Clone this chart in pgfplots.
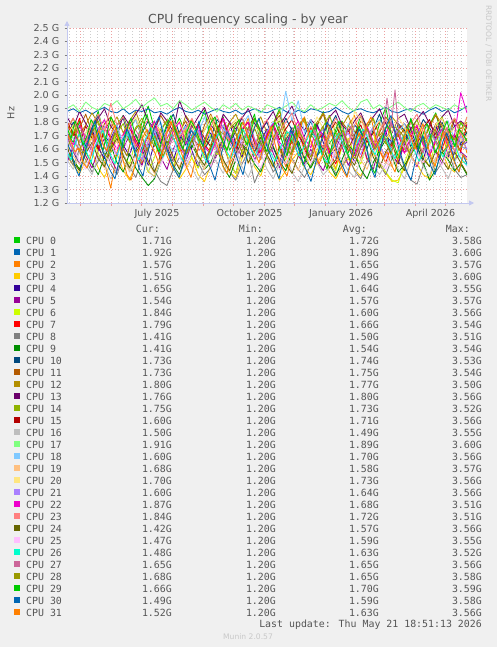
\documentclass[border=0pt]{standalone}
\usepackage{pgfplots}
\pgfplotsset{compat=1.18}
\usetikzlibrary{arrows.meta}
\usepackage{fontspec}
\setmainfont{DejaVu Sans}
\newfontfamily\mono{DejaVu Sans Mono}
\newcommand\fs[1]{\fontsize{#1}{#1}\selectfont}
\definecolor{bg}{HTML}{F0F0F0}
\definecolor{txt}{RGB}{85,85,85}
\definecolor{gridred}{RGB}{236,160,160}
\definecolor{gridgray}{RGB}{205,205,205}
\definecolor{axc}{RGB}{195,200,240}
\definecolor{c0}{HTML}{00CC00}\definecolor{c1}{HTML}{0066B3}\definecolor{c2}{HTML}{FF8000}\definecolor{c3}{HTML}{FFCC00}
\definecolor{c4}{HTML}{330099}\definecolor{c5}{HTML}{990099}\definecolor{c6}{HTML}{CCFF00}\definecolor{c7}{HTML}{FF0000}
\definecolor{c8}{HTML}{808080}\definecolor{c9}{HTML}{008F00}\definecolor{c10}{HTML}{00487D}\definecolor{c11}{HTML}{B35A00}
\definecolor{c12}{HTML}{B38F00}\definecolor{c13}{HTML}{6B006B}\definecolor{c14}{HTML}{8FB300}\definecolor{c15}{HTML}{B30000}
\definecolor{c16}{HTML}{BEBEBE}\definecolor{c17}{HTML}{80FF80}\definecolor{c18}{HTML}{80C9FF}\definecolor{c19}{HTML}{FFC080}
\definecolor{c20}{HTML}{FFE680}\definecolor{c21}{HTML}{AA80FF}\definecolor{c22}{HTML}{EE00CC}\definecolor{c23}{HTML}{FF8080}
\definecolor{c24}{HTML}{666600}\definecolor{c25}{HTML}{FFBFFF}\definecolor{c26}{HTML}{00FFCC}\definecolor{c27}{HTML}{CC6699}
\definecolor{c28}{HTML}{999900}\definecolor{c29}{HTML}{00CC00}\definecolor{c30}{HTML}{0066B3}\definecolor{c31}{HTML}{FF8000}
\tikzset{lbl/.style={font=\fs{9.6}, text=txt, inner sep=0pt},
         lg/.style={font=\mono\fs{9.9}, text=txt, inner sep=0pt}}
\newcommand{\legrow}[5]{%
 \begin{scope}[yshift={-12pt*#1}]
  \fill[c#1] (14pt,-237pt) rectangle (20pt,-243pt);
  \node[lg,anchor=base west] at (26pt,-244pt) {CPU #1};
  \node[lg,anchor=base east] at (172pt,-244pt) {#2};
  \node[lg,anchor=base east] at (276pt,-244pt) {#3};
  \node[lg,anchor=base east] at (379pt,-244pt) {#4};
  \node[lg,anchor=base east] at (482pt,-244pt) {#5};
 \end{scope}}
\begin{document}
\begin{tikzpicture}
\fill[bg] (0,0) rectangle (497pt,-647pt);
\begin{axis}[
 at={(67pt,-203pt)}, anchor=south west,
 scale only axis, width=400pt, height=175pt,
 xmin=0, xmax=400, ymin=120, ymax=250,
 axis background/.style={fill=white},
 axis line style={draw=none},
 xtick={13.7,44.7,74.7,105.7,136.7,166.7,197.7,227.7,258.7,289.7,317.7,348.7,378.7},
 minor xtick={2.7,9.7,...,397},
 ytick={120,130,...,250},
 xticklabels={}, yticklabels={},
 tick align=outside, tick pos=left,
 major tick length=2.5pt, minor tick length=0pt,
 xtick style={draw=gridred, line width=0.7pt},
 ytick style={draw=gray, line width=0.7pt},
 grid=both,
 major grid style={draw=gridred, line width=0.6pt, dash pattern=on 1pt off 2pt},
 minor grid style={draw=gridgray, line width=0.6pt, dash pattern=on 1pt off 2pt},
 every axis plot/.append style={line width=0.85pt, line join=round},
]
\addplot[c0] table[x expr=\coordindex*6.25, y index=0, header=false, row sep=\\] {172\\165\\181\\158\\176\\188\\169\\160\\178\\185\\171\\163\\180\\192\\175\\166\\158\\174\\183\\170\\161\\177\\189\\168\\172\\184\\159\\167\\180\\174\\186\\163\\171\\179\\190\\166\\158\\175\\182\\169\\177\\188\\164\\172\\181\\157\\170\\185\\176\\162\\179\\191\\168\\174\\160\\183\\171\\165\\178\\187\\169\\175\\162\\180\\171\\};
\addplot[c1] table[x expr=\coordindex*6.25, y index=0, header=false, row sep=\\] {188\\190\\187\\189\\186\\189\\191\\188\\187\\190\\186\\189\\188\\190\\187\\188\\186\\189\\191\\188\\187\\189\\186\\188\\190\\188\\187\\189\\186\\188\\190\\188\\187\\189\\191\\188\\186\\189\\187\\190\\189\\187\\188\\191\\188\\186\\189\\190\\188\\187\\189\\191\\188\\187\\189\\190\\188\\186\\189\\191\\188\\190\\187\\189\\192\\};
\addplot[c2] table[x expr=\coordindex*6.25, y index=0, header=false, row sep=\\] {176\\168\\158\\172\\181\\163\\150\\131\\158\\170\\177\\162\\149\\166\\180\\171\\155\\144\\163\\175\\182\\167\\153\\160\\174\\168\\149\\157\\172\\183\\164\\152\\169\\178\\160\\147\\162\\175\\184\\166\\155\\170\\158\\145\\163\\177\\185\\167\\152\\161\\173\\180\\164\\150\\168\\176\\159\\148\\166\\179\\171\\156\\163\\174\\157\\};
\addplot[c3] table[x expr=\coordindex*6.25, y index=0, header=false, row sep=\\] {155\\148\\142\\151\\158\\146\\139\\150\\157\\144\\137\\149\\156\\143\\140\\152\\160\\147\\138\\145\\154\\141\\136\\148\\159\\150\\143\\139\\153\\161\\147\\140\\155\\149\\137\\144\\152\\158\\146\\141\\150\\156\\143\\138\\147\\153\\145\\140\\151\\157\\148\\142\\136\\137\\146\\155\\149\\141\\138\\152\\158\\147\\143\\150\\151\\};
\addplot[c4] table[x expr=\coordindex*6.25, y index=0, header=false, row sep=\\] {170\\158\\149\\166\\175\\161\\153\\168\\177\\163\\155\\171\\160\\148\\165\\174\\162\\151\\167\\178\\159\\146\\163\\172\\157\\168\\180\\164\\154\\170\\158\\166\\175\\161\\150\\167\\176\\162\\153\\169\\179\\165\\155\\160\\171\\163\\150\\164\\177\\159\\168\\174\\156\\149\\166\\175\\161\\152\\169\\178\\160\\154\\170\\163\\165\\};
\addplot[c5] table[x expr=\coordindex*6.25, y index=0, header=false, row sep=\\] {150\\162\\171\\155\\146\\159\\168\\153\\144\\161\\170\\156\\148\\163\\172\\154\\145\\160\\169\\151\\165\\174\\158\\147\\156\\163\\150\\142\\159\\168\\152\\161\\170\\157\\146\\164\\173\\155\\149\\160\\151\\144\\158\\167\\162\\148\\157\\171\\153\\145\\162\\169\\155\\150\\164\\156\\147\\160\\172\\158\\149\\163\\152\\158\\154\\};
\addplot[c6] table[x expr=\coordindex*6.25, y index=0, header=false, row sep=\\] {164\\152\\145\\158\\170\\157\\148\\162\\173\\155\\149\\166\\158\\143\\154\\168\\159\\147\\163\\174\\153\\146\\160\\171\\156\\165\\150\\142\\158\\169\\161\\172\\155\\148\\163\\152\\167\\175\\157\\146\\159\\170\\153\\144\\162\\168\\156\\149\\165\\173\\151\\143\\137\\135\\150\\162\\171\\155\\147\\166\\174\\158\\151\\170\\184\\};
\addplot[c7] table[x expr=\coordindex*6.25, y index=0, header=false, row sep=\\] {178\\170\\183\\165\\172\\160\\176\\168\\155\\171\\181\\164\\157\\173\\166\\152\\168\\177\\161\\155\\170\\179\\163\\158\\174\\183\\167\\159\\175\\180\\165\\156\\170\\178\\162\\154\\167\\174\\160\\151\\166\\172\\158\\149\\163\\175\\161\\153\\168\\176\\159\\150\\164\\171\\157\\169\\177\\163\\155\\166\\160\\173\\168\\158\\179\\};
\addplot[c8] table[x expr=\coordindex*6.25, y index=0, header=false, row sep=\\] {156\\148\\160\\152\\143\\151\\162\\149\\141\\155\\147\\139\\153\\160\\144\\136\\133\\145\\154\\148\\157\\150\\141\\146\\159\\152\\143\\137\\149\\158\\135\\146\\154\\143\\150\\161\\153\\145\\139\\148\\156\\163\\150\\142\\147\\155\\144\\138\\151\\159\\149\\141\\153\\160\\146\\137\\134\\148\\155\\143\\150\\158\\145\\139\\141\\};
\addplot[c9] table[x expr=\coordindex*6.25, y index=0, header=false, row sep=\\] {160\\152\\145\\158\\149\\141\\155\\163\\150\\143\\157\\146\\139\\133\\138\\151\\160\\148\\141\\156\\163\\154\\145\\150\\161\\147\\139\\152\\165\\158\\149\\143\\156\\162\\151\\144\\158\\166\\153\\146\\155\\161\\149\\140\\152\\164\\157\\145\\138\\150\\159\\167\\154\\143\\148\\156\\163\\150\\137\\145\\158\\152\\144\\149\\141\\};
\addplot[c10] table[x expr=\coordindex*6.25, y index=0, header=false, row sep=\\] {168\\180\\173\\162\\176\\185\\170\\164\\178\\183\\167\\159\\172\\181\\175\\164\\177\\186\\171\\163\\179\\172\\160\\168\\182\\176\\165\\173\\184\\169\\161\\175\\180\\166\\172\\183\\174\\163\\170\\181\\168\\159\\176\\185\\171\\164\\178\\173\\160\\175\\186\\170\\165\\179\\174\\162\\171\\182\\176\\167\\180\\169\\177\\164\\173\\};
\addplot[c11] table[x expr=\coordindex*6.25, y index=0, header=false, row sep=\\] {181\\170\\176\\186\\172\\165\\179\\184\\171\\162\\176\\182\\168\\160\\174\\185\\177\\166\\173\\181\\169\\163\\178\\186\\175\\167\\180\\172\\161\\176\\183\\174\\168\\179\\185\\171\\164\\177\\182\\170\\178\\186\\173\\165\\180\\174\\168\\181\\176\\163\\172\\184\\177\\169\\175\\181\\170\\164\\178\\185\\176\\167\\182\\171\\173\\};
\addplot[c12] table[x expr=\coordindex*6.25, y index=0, header=false, row sep=\\] {174\\183\\170\\178\\187\\179\\168\\176\\184\\172\\181\\188\\175\\167\\180\\173\\182\\177\\170\\185\\178\\169\\174\\183\\176\\171\\180\\186\\175\\168\\177\\184\\172\\179\\188\\174\\166\\178\\183\\171\\180\\187\\176\\169\\177\\185\\173\\168\\179\\182\\170\\176\\184\\178\\172\\181\\174\\167\\176\\186\\178\\171\\183\\175\\180\\};
\addplot[c13] table[x expr=\coordindex*6.25, y index=0, header=false, row sep=\\] {184\\176\\188\\179\\172\\183\\190\\177\\171\\185\\178\\186\\193\\180\\174\\187\\181\\173\\196\\184\\176\\184\\191\\178\\172\\186\\180\\175\\183\\190\\179\\173\\181\\188\\177\\185\\192\\180\\174\\182\\177\\170\\184\\189\\178\\173\\181\\187\\176\\184\\190\\179\\172\\183\\186\\175\\182\\188\\179\\171\\184\\189\\177\\181\\176\\};
\addplot[c14] table[x expr=\coordindex*6.25, y index=0, header=false, row sep=\\] {166\\178\\171\\160\\174\\181\\168\\157\\172\\179\\165\\176\\183\\170\\162\\175\\181\\167\\158\\173\\179\\166\\174\\184\\169\\161\\175\\180\\167\\172\\183\\170\\163\\177\\181\\168\\159\\174\\182\\171\\164\\177\\185\\172\\166\\178\\169\\161\\176\\183\\170\\164\\179\\174\\160\\173\\182\\168\\163\\177\\184\\171\\166\\180\\175\\};
\addplot[c15] table[x expr=\coordindex*6.25, y index=0, header=false, row sep=\\] {180\\172\\165\\177\\168\\160\\174\\182\\169\\163\\176\\167\\158\\171\\179\\166\\173\\181\\164\\157\\170\\178\\168\\162\\175\\183\\169\\161\\174\\180\\165\\158\\172\\179\\167\\175\\182\\170\\163\\176\\168\\161\\173\\180\\166\\159\\171\\178\\165\\172\\181\\167\\160\\175\\179\\170\\163\\176\\182\\168\\174\\166\\171\\162\\160\\};
\addplot[c16] table[x expr=\coordindex*6.25, y index=0, header=false, row sep=\\] {152\\145\\158\\148\\141\\155\\149\\138\\146\\157\\143\\150\\156\\144\\139\\151\\159\\147\\140\\153\\146\\137\\148\\156\\150\\142\\154\\160\\147\\139\\151\\157\\145\\138\\149\\156\\143\\136\\147\\155\\150\\141\\146\\158\\152\\144\\139\\153\\160\\148\\141\\149\\157\\145\\138\\152\\159\\147\\140\\154\\146\\138\\151\\157\\150\\};
\addplot[c17] table[x expr=\coordindex*6.25, y index=0, header=false, row sep=\\] {190\\193\\188\\195\\191\\189\\194\\192\\196\\190\\193\\197\\191\\195\\198\\192\\194\\190\\196\\193\\189\\192\\195\\191\\188\\193\\190\\194\\189\\192\\190\\187\\193\\191\\189\\192\\195\\190\\188\\193\\189\\191\\194\\192\\196\\191\\188\\195\\197\\190\\193\\189\\192\\195\\191\\188\\192\\194\\190\\193\\191\\189\\193\\190\\191\\};
\addplot[c18] table[x expr=\coordindex*6.25, y index=0, header=false, row sep=\\] {176\\168\\160\\172\\181\\165\\157\\170\\178\\163\\174\\182\\169\\161\\173\\180\\166\\158\\171\\177\\163\\172\\184\\167\\159\\175\\169\\162\\178\\185\\168\\160\\173\\180\\176\\203\\181\\196\\172\\182\\167\\158\\174\\170\\164\\179\\172\\161\\168\\177\\182\\166\\160\\173\\179\\165\\171\\178\\163\\158\\174\\181\\167\\162\\160\\};
\addplot[c19] table[x expr=\coordindex*6.25, y index=0, header=false, row sep=\\] {162\\155\\149\\160\\168\\153\\146\\159\\166\\151\\144\\157\\163\\150\\142\\155\\164\\152\\147\\160\\167\\154\\145\\158\\165\\150\\143\\156\\163\\149\\161\\168\\155\\146\\153\\165\\152\\144\\159\\164\\151\\157\\166\\154\\148\\160\\167\\152\\145\\158\\163\\150\\147\\161\\169\\155\\148\\162\\157\\151\\164\\153\\159\\166\\168\\};
\addplot[c20] table[x expr=\coordindex*6.25, y index=0, header=false, row sep=\\] {170\\178\\165\\172\\181\\168\\175\\183\\170\\163\\177\\184\\171\\166\\179\\173\\162\\175\\181\\169\\180\\167\\174\\185\\172\\164\\176\\182\\170\\165\\178\\171\\163\\176\\183\\169\\174\\181\\166\\172\\184\\175\\168\\179\\171\\163\\188\\182\\170\\175\\181\\168\\173\\184\\176\\166\\179\\172\\164\\178\\183\\170\\176\\167\\170\\};
\addplot[c21] table[x expr=\coordindex*6.25, y index=0, header=false, row sep=\\] {168\\159\\172\\164\\155\\170\\177\\162\\156\\167\\173\\160\\152\\166\\175\\158\\169\\176\\163\\154\\166\\174\\161\\157\\170\\178\\165\\155\\168\\174\\161\\153\\167\\175\\163\\157\\170\\177\\164\\156\\168\\175\\160\\153\\166\\172\\162\\156\\169\\176\\163\\154\\168\\174\\161\\157\\171\\165\\158\\167\\175\\163\\156\\170\\160\\};
\addplot[c22] table[x expr=\coordindex*6.25, y index=0, header=false, row sep=\\] {172\\163\\178\\167\\158\\175\\182\\168\\160\\171\\179\\165\\157\\173\\181\\166\\159\\174\\180\\164\\170\\177\\162\\156\\168\\183\\171\\163\\175\\180\\167\\158\\172\\179\\165\\160\\173\\181\\168\\161\\176\\170\\156\\164\\174\\162\\155\\169\\177\\166\\159\\172\\180\\165\\157\\171\\178\\163\\155\\168\\175\\161\\170\\202\\187\\};
\addplot[c23] table[x expr=\coordindex*6.25, y index=0, header=false, row sep=\\] {176\\183\\170\\165\\179\\186\\172\\194\\178\\184\\170\\163\\176\\182\\168\\161\\174\\181\\169\\175\\183\\171\\164\\177\\185\\173\\166\\179\\184\\170\\162\\175\\182\\168\\173\\180\\187\\172\\165\\177\\169\\161\\174\\183\\176\\165\\178\\185\\171\\163\\174\\182\\169\\160\\172\\179\\186\\173\\166\\175\\168\\177\\183\\171\\184\\};
\addplot[c24] table[x expr=\coordindex*6.25, y index=0, header=false, row sep=\\] {162\\150\\144\\157\\165\\153\\147\\160\\168\\155\\146\\158\\164\\151\\143\\156\\166\\154\\145\\159\\167\\155\\148\\161\\170\\152\\144\\157\\165\\150\\158\\169\\156\\147\\162\\149\\142\\155\\163\\151\\164\\157\\146\\152\\166\\155\\148\\161\\169\\154\\146\\158\\165\\151\\144\\160\\167\\153\\147\\159\\152\\145\\158\\150\\142\\};
\addplot[c25] table[x expr=\coordindex*6.25, y index=0, header=false, row sep=\\] {155\\163\\151\\145\\160\\168\\156\\149\\162\\170\\158\\150\\164\\171\\157\\148\\161\\167\\154\\146\\159\\166\\153\\147\\163\\170\\158\\151\\165\\160\\152\\146\\158\\167\\155\\149\\162\\169\\157\\150\\163\\155\\148\\160\\168\\156\\150\\164\\171\\159\\151\\145\\157\\166\\161\\169\\157\\150\\163\\156\\148\\161\\167\\154\\147\\};
\addplot[c26] table[x expr=\coordindex*4, y index=0, header=false, row sep=\\] {158\\152\\164\\171\\166\\157\\150\\161\\169\\174\\163\\155\\149\\160\\168\\173\\165\\158\\152\\163\\170\\176\\167\\159\\154\\162\\171\\166\\157\\151\\160\\168\\174\\164\\156\\150\\159\\167\\172\\165\\158\\153\\161\\170\\175\\168\\160\\155\\162\\169\\164\\157\\151\\158\\166\\173\\171\\162\\155\\160\\167\\174\\169\\161\\154\\150\\158\\166\\172\\163\\157\\152\\160\\168\\175\\170\\161\\156\\163\\171\\166\\159\\153\\161\\169\\174\\165\\158\\151\\157\\164\\171\\167\\160\\154\\162\\168\\163\\155\\151\\148\\};
\addplot[c27] table[x expr=\coordindex*4, y index=0, header=false, row sep=\\] {169\\162\\156\\165\\173\\168\\160\\172\\176\\164\\158\\166\\174\\169\\161\\155\\167\\175\\170\\163\\157\\168\\176\\171\\162\\158\\165\\173\\167\\160\\170\\177\\166\\159\\163\\172\\175\\164\\156\\168\\174\\169\\161\\157\\166\\173\\177\\165\\159\\170\\164\\158\\167\\175\\170\\162\\156\\168\\176\\166\\160\\171\\174\\163\\157\\165\\172\\168\\159\\163\\173\\177\\165\\158\\167\\174\\169\\161\\166\\172\\198\\176\\204\\171\\164\\158\\167\\175\\163\\157\\168\\174\\166\\160\\171\\176\\164\\158\\169\\172\\165\\};
\addplot[c28] table[x expr=\coordindex*4, y index=0, header=false, row sep=\\] {160\\168\\175\\164\\157\\162\\171\\176\\166\\158\\154\\163\\172\\169\\160\\155\\166\\174\\178\\167\\159\\164\\170\\162\\155\\161\\173\\177\\168\\160\\157\\165\\172\\166\\158\\153\\164\\171\\176\\165\\160\\168\\174\\163\\156\\162\\170\\175\\167\\161\\155\\163\\171\\177\\169\\160\\156\\165\\173\\168\\159\\154\\166\\172\\177\\164\\158\\163\\170\\174\\166\\157\\153\\162\\171\\175\\168\\160\\165\\172\\163\\156\\167\\174\\170\\161\\155\\164\\173\\166\\160\\169\\175\\164\\158\\162\\170\\167\\159\\164\\168\\};
\addplot[c29] table[x expr=\coordindex*4, y index=0, header=false, row sep=\\] {176\\168\\181\\174\\163\\170\\182\\177\\166\\159\\172\\184\\178\\169\\161\\175\\183\\171\\165\\176\\186\\173\\164\\158\\170\\179\\185\\174\\167\\160\\173\\181\\176\\168\\162\\171\\180\\184\\172\\165\\159\\168\\177\\182\\170\\163\\174\\183\\176\\166\\158\\171\\180\\173\\164\\155\\168\\178\\161\\148\\157\\170\\179\\166\\154\\145\\160\\173\\181\\168\\158\\150\\164\\177\\170\\159\\147\\142\\156\\169\\178\\172\\161\\153\\166\\175\\182\\170\\160\\171\\179\\168\\157\\163\\174\\181\\170\\162\\175\\171\\166\\};
\addplot[c30] table[x expr=\coordindex*4, y index=0, header=false, row sep=\\] {165\\158\\147\\140\\152\\163\\172\\181\\170\\158\\149\\143\\138\\151\\166\\175\\168\\157\\146\\140\\155\\167\\178\\184\\172\\160\\151\\144\\139\\148\\162\\174\\170\\181\\166\\152\\145\\137\\150\\161\\173\\167\\158\\149\\141\\155\\169\\177\\183\\171\\162\\154\\146\\138\\152\\165\\174\\168\\159\\150\\143\\136\\148\\160\\171\\180\\176\\164\\153\\147\\140\\152\\166\\175\\169\\159\\146\\139\\154\\168\\179\\185\\172\\160\\151\\143\\137\\150\\163\\170\\158\\147\\141\\153\\166\\172\\161\\150\\143\\156\\149\\};
\addplot[c31] table[x expr=\coordindex*4, y index=0, header=false, row sep=\\] {172\\165\\158\\161\\150\\146\\155\\168\\174\\163\\159\\171\\178\\166\\152\\141\\137\\148\\160\\169\\175\\163\\157\\149\\160\\172\\181\\170\\162\\154\\146\\139\\151\\164\\158\\170\\176\\168\\159\\147\\142\\155\\166\\173\\180\\171\\163\\157\\150\\161\\168\\177\\164\\152\\145\\140\\153\\162\\171\\183\\175\\166\\158\\149\\156\\167\\174\\161\\151\\144\\139\\150\\163\\172\\168\\178\\184\\170\\160\\153\\158\\149\\143\\157\\166\\175\\169\\160\\171\\179\\165\\154\\147\\160\\173\\166\\158\\149\\143\\156\\152\\};
\end{axis}
% axes
\draw[axc, line width=0.8pt, -{Triangle[length=5pt,width=5pt]}] (67pt,-203pt) -- (67pt,-21pt);
\draw[axc, line width=0.8pt, -{Triangle[length=5pt,width=5pt]}] (67pt,-203pt) -- (474pt,-203pt);
% y tick labels
\foreach \i/\t in {0/1.2,1/1.3,2/1.4,3/1.5,4/1.6,5/1.7,6/1.8,7/1.9,8/2.0,9/2.1,10/2.2,11/2.3,12/2.4,13/2.5}
  \node[lbl,anchor=east] at (59.5pt,{(-203+13.4615*\i)*1pt}) {\t\ G};
% x labels
\node[lbl,anchor=base] at (157pt,-216pt) {July 2025};
\node[lbl,anchor=base] at (249.5pt,-216pt) {October 2025};
\node[lbl,anchor=base] at (341pt,-216pt) {January 2026};
\node[lbl,anchor=base] at (430.5pt,-216pt) {April 2026};
% title etc.
\node[font=\fs{12.5}, text=txt, inner sep=0pt, anchor=base] at (248pt,-23.5pt) {CPU frequency scaling - by year};
\node[lbl, rotate=90] at (11pt,-113pt) {Hz};
\node[font=\fs{7.5}, text={rgb,255:red,200;green,200;blue,200}, inner sep=0pt, rotate=-90] at (488.5pt,-53.5pt) {RRDTOOL / TOBI OETIKER};
% legend header
\node[lg,anchor=base east] at (160pt,-232pt) {Cur:};
\node[lg,anchor=base east] at (263pt,-232pt) {Min:};
\node[lg,anchor=base east] at (367pt,-232pt) {Avg:};
\node[lg,anchor=base east] at (470pt,-232pt) {Max:};
\legrow{0}{1.71G}{1.20G}{1.72G}{3.58G}
\legrow{1}{1.92G}{1.20G}{1.89G}{3.60G}
\legrow{2}{1.57G}{1.20G}{1.65G}{3.57G}
\legrow{3}{1.51G}{1.20G}{1.49G}{3.60G}
\legrow{4}{1.65G}{1.20G}{1.64G}{3.55G}
\legrow{5}{1.54G}{1.20G}{1.57G}{3.57G}
\legrow{6}{1.84G}{1.20G}{1.60G}{3.56G}
\legrow{7}{1.79G}{1.20G}{1.66G}{3.54G}
\legrow{8}{1.41G}{1.20G}{1.50G}{3.51G}
\legrow{9}{1.41G}{1.20G}{1.54G}{3.54G}
\legrow{10}{1.73G}{1.20G}{1.74G}{3.53G}
\legrow{11}{1.73G}{1.20G}{1.75G}{3.54G}
\legrow{12}{1.80G}{1.20G}{1.77G}{3.50G}
\legrow{13}{1.76G}{1.20G}{1.80G}{3.56G}
\legrow{14}{1.75G}{1.20G}{1.73G}{3.52G}
\legrow{15}{1.60G}{1.20G}{1.71G}{3.56G}
\legrow{16}{1.50G}{1.20G}{1.49G}{3.55G}
\legrow{17}{1.91G}{1.20G}{1.89G}{3.60G}
\legrow{18}{1.60G}{1.20G}{1.70G}{3.56G}
\legrow{19}{1.68G}{1.20G}{1.58G}{3.57G}
\legrow{20}{1.70G}{1.20G}{1.73G}{3.56G}
\legrow{21}{1.60G}{1.20G}{1.64G}{3.56G}
\legrow{22}{1.87G}{1.20G}{1.68G}{3.51G}
\legrow{23}{1.84G}{1.20G}{1.72G}{3.51G}
\legrow{24}{1.42G}{1.20G}{1.57G}{3.56G}
\legrow{25}{1.47G}{1.20G}{1.59G}{3.55G}
\legrow{26}{1.48G}{1.20G}{1.63G}{3.52G}
\legrow{27}{1.65G}{1.20G}{1.65G}{3.56G}
\legrow{28}{1.68G}{1.20G}{1.65G}{3.58G}
\legrow{29}{1.66G}{1.20G}{1.70G}{3.59G}
\legrow{30}{1.49G}{1.20G}{1.59G}{3.58G}
\legrow{31}{1.52G}{1.20G}{1.63G}{3.56G}
\node[lg,anchor=base east] at (482pt,-627pt) {Last update: Thu May 21 18:51:13 2026};
\node[font=\fs{7.6}, text={rgb,255:red,200;green,200;blue,200}, inner sep=0pt, anchor=base] at (248pt,-639pt) {Munin 2.0.57};
\end{tikzpicture}
\end{document}
